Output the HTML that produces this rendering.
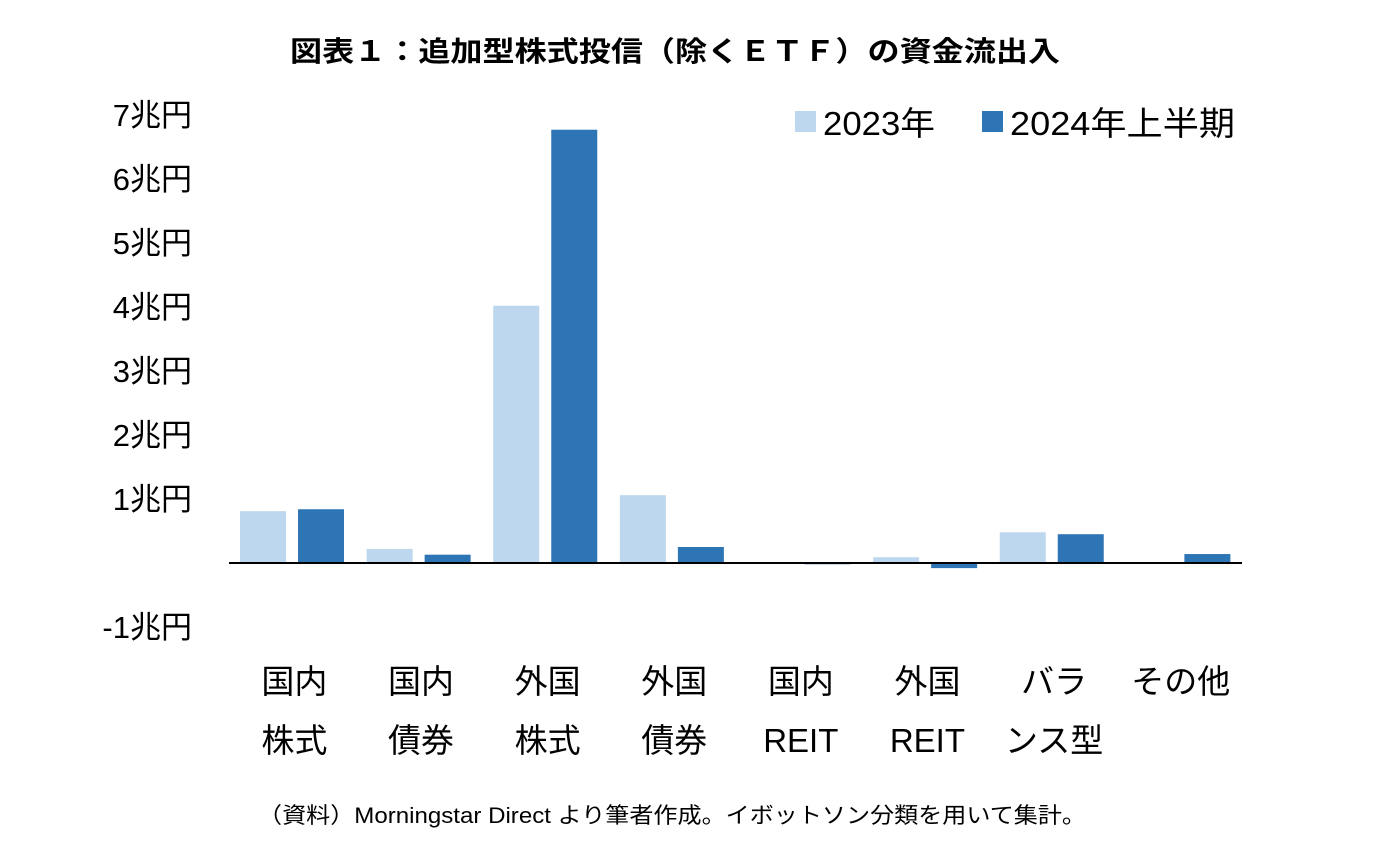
<!DOCTYPE html>
<html><head><meta charset="utf-8">
<style>
body{margin:0;background:#fff;width:1391px;height:852px;overflow:hidden;font-family:"Liberation Sans","Noto Sans CJK JP",sans-serif;}
svg text{font-family:"Liberation Sans","Noto Sans CJK JP",sans-serif;}
</style></head>
<body>
<svg id="chart" width="1391" height="852" xmlns="http://www.w3.org/2000/svg">
<text x="675" y="61" text-anchor="middle" font-size="28" font-weight="bold" textLength="770" lengthAdjust="spacingAndGlyphs" fill="#000">図表１：追加型株式投信（除くＥＴＦ）の資金流出入</text>
<g id="yaxis"></g>
<g id="bars"></g>
<g id="xaxis"></g>
<g>
<rect x="795" y="111" width="21" height="21" fill="#BDD7EE"/>
<text x="823" y="135" font-size="33" textLength="112" lengthAdjust="spacingAndGlyphs" fill="#000">2023年</text>
<rect x="982" y="111" width="21" height="21" fill="#2E75B6"/>
<text x="1010" y="135" font-size="33" textLength="225" lengthAdjust="spacingAndGlyphs" fill="#000">2024年上半期</text>
</g>
<text x="258" y="823" font-size="22" textLength="828" lengthAdjust="spacingAndGlyphs" fill="#000">（資料）Morningstar Direct より筆者作成。イボットソン分類を用いて集計。</text>
</svg>
<script>
const categoriesLine1 = ["国内","国内","外国","外国","国内","外国","バラ","その他"];
const categoriesLine2 = ["株式","債券","株式","債券","REIT","REIT","ンス型",""];
const series2023 = [0.81,0.22,4.02,1.06,0,0.09,0.48,0];
const series2024 = [0.84,0.13,6.77,0.25,-0.02,-0.08,0.45,0.14];
const tickValues = [-1,1,2,3,4,5,6,7];
const tickLabels = ["-1兆円","1兆円","2兆円","3兆円","4兆円","5兆円","6兆円","7兆円"];

const NS="http://www.w3.org/2000/svg";
const y0=563, unit=64, xL=229, xR=1242;
const gw=(xR-xL)/categoriesLine1.length;
const yScale=v=>y0-v*unit;
const xGroup=i=>xL+i*gw;
function mk(tag,attrs,parent){const e=document.createElementNS(NS,tag);for(const k in attrs)e.setAttribute(k,attrs[k]);parent.appendChild(e);return e;}
const ya=document.getElementById('yaxis'),bars=document.getElementById('bars'),xa=document.getElementById('xaxis');
tickValues.forEach((v,i)=>{
  const t=mk('text',{x:192,y:yScale(v)+11,'text-anchor':'end','font-size':31,fill:'#000'},ya);
  
  
  t.textContent=tickLabels[i];
});
function bar(v,x,color,name){
  const y=Math.min(yScale(v),y0),h=Math.abs(yScale(v)-y0);
  const r=mk('rect',{x:x,y:y,width:46,height:Math.max(h,0.01),fill:color},bars);
  
  
}
categoriesLine1.forEach((c,i)=>{
  const gx=xGroup(i);
  bar(series2023[i],gx+11,'#BDD7EE','bar-2023');
  bar(series2024[i],gx+69,'#2E75B6','bar-2024h1');
  const cx=gx+gw/2+2;
  const t1=mk('text',{x:cx,y:693,'text-anchor':'middle','font-size':33,fill:'#000'},xa);
  
  
  t1.textContent=c;
  const t2=mk('text',{x:cx,y:752,'text-anchor':'middle','font-size':33,fill:'#000'},xa);
  
  
  t2.textContent=categoriesLine2[i];
});
const ax=mk('line',{x1:xL,x2:xR,y1:y0,y2:y0,stroke:'#000','stroke-width':2},xa);


</script>
</body></html>
